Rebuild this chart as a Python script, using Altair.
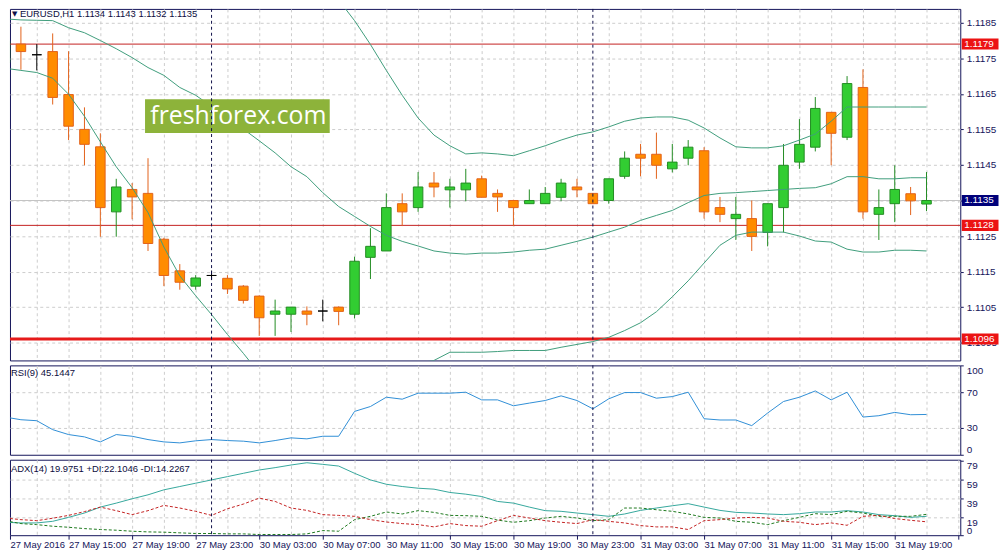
import altair as alt
import pandas as pd

# ---------------- values ----------------
# EURUSD H1 bars, bar 0 = 27 May 2016 11:00 (weekend skipped)
OPEN = [1.11738, 1.11790, 1.11760, 1.11769, 1.11648, 1.11550, 1.11501, 1.11318, 1.11381, 1.11370,
        1.11241, 1.11152, 1.11109, 1.11139, 1.11131, 1.11109, 1.11081, 1.11030, 1.11030, 1.11039,
        1.11039, 1.11050, 1.11030, 1.11190, 1.11208, 1.11341, 1.11330, 1.11399, 1.11380, 1.11380,
        1.11411, 1.11370, 1.11350, 1.11341, 1.11341, 1.11359, 1.11388, 1.11370, 1.11350, 1.11418,
        1.11480, 1.11480, 1.11439, 1.11469, 1.11490, 1.11330, 1.11299, 1.11299, 1.11260, 1.11330,
        1.11458, 1.11500, 1.11598, 1.11528, 1.11668, 1.11311, 1.11341, 1.11369, 1.11340]
HIGH = [1.11850, 1.11839, 1.11790, 1.11820, 1.11770, 1.11612, 1.11539, 1.11411, 1.11399, 1.11469,
        1.11245, 1.11171, 1.11140, 1.11153, 1.11140, 1.11112, 1.11083, 1.11071, 1.11050, 1.11052,
        1.11071, 1.11052, 1.11192, 1.11272, 1.11370, 1.11370, 1.11430, 1.11430, 1.11411, 1.11439,
        1.11420, 1.11381, 1.11352, 1.11381, 1.11388, 1.11411, 1.11411, 1.11370, 1.11411, 1.11488,
        1.11509, 1.11541, 1.11509, 1.11520, 1.11500, 1.11360, 1.11360, 1.11350, 1.11341, 1.11509,
        1.11579, 1.11641, 1.11598, 1.11700, 1.11719, 1.11381, 1.11449, 1.11388, 1.11430]
LOW = [1.11720, 1.11718, 1.11716, 1.11620, 1.11520, 1.11449, 1.11248, 1.11248, 1.11297, 1.11208,
       1.11109, 1.11099, 1.11099, 1.11126, 1.11087, 1.11060, 1.10969, 1.10969, 1.10980, 1.10999,
       1.11010, 1.10999, 1.11018, 1.11129, 1.11208, 1.11278, 1.11318, 1.11359, 1.11330, 1.11348,
       1.11359, 1.11318, 1.11278, 1.11341, 1.11341, 1.11348, 1.11359, 1.11341, 1.11341, 1.11411,
       1.11418, 1.11411, 1.11429, 1.11449, 1.11299, 1.11289, 1.11239, 1.11208, 1.11221, 1.11260,
       1.11439, 1.11488, 1.11449, 1.11520, 1.11299, 1.11239, 1.11289, 1.11309, 1.11320]
CLOSE = [1.11798, 1.11769, 1.11760, 1.11640, 1.11559, 1.11508, 1.11330, 1.11388, 1.11360, 1.11229,
         1.11139, 1.11120, 1.11132, 1.11139, 1.11101, 1.11069, 1.11020, 1.11039, 1.11050, 1.11030,
         1.11039, 1.11038, 1.11179, 1.11221, 1.11330, 1.11318, 1.11388, 1.11388, 1.11388, 1.11399,
         1.11359, 1.11360, 1.11330, 1.11350, 1.11370, 1.11399, 1.11380, 1.11341, 1.11411, 1.11469,
         1.11469, 1.11449, 1.11458, 1.11500, 1.11318, 1.11311, 1.11311, 1.11249, 1.11341, 1.11449,
         1.11508, 1.11609, 1.11539, 1.11679, 1.11318, 1.11330, 1.11381, 1.11349, 1.11350]

BB_UPPER = [1.12000, 1.12000, 1.12010, 1.12030, 1.12060, 1.12080, 1.12120, 1.12130, 1.12140, 1.12160,
            1.12180, 1.12190, 1.12190, 1.12180, 1.12160, 1.12130, 1.12100, 1.12070, 1.12040, 1.12010,
            1.11973, 1.11914, 1.11856, 1.11789, 1.11716, 1.11646, 1.11582, 1.11534, 1.11504, 1.11481,
            1.11484, 1.11481, 1.11476, 1.11490, 1.11504, 1.11520, 1.11534, 1.11543, 1.11557, 1.11573,
            1.11582, 1.11585, 1.11585, 1.11576, 1.11554, 1.11526, 1.11501, 1.11498, 1.11498, 1.11504,
            1.11520, 1.11537, 1.11573, 1.11613, 1.11613, 1.11613, 1.11613, 1.11613, 1.11613]
BB_MIDDLE = [1.11861, 1.11858, 1.11857, 1.11856, 1.11836, 1.11822, 1.11800, 1.11777, 1.11752, 1.11724,
             1.11702, 1.11668, 1.11646, 1.11615, 1.11585, 1.11551, 1.11518, 1.11484, 1.11445, 1.11417,
             1.11372, 1.11333, 1.11305, 1.11277, 1.11252, 1.11235, 1.11222, 1.11208, 1.11202, 1.11199,
             1.11202, 1.11202, 1.11205, 1.11210, 1.11213, 1.11224, 1.11235, 1.11247, 1.11261, 1.11275,
             1.11294, 1.11308, 1.11322, 1.11344, 1.11364, 1.11370, 1.11372, 1.11375, 1.11378, 1.11381,
             1.11384, 1.11386, 1.11397, 1.11417, 1.11417, 1.11411, 1.11411, 1.11414, 1.11414]
BB_LOWER = [1.11722, 1.11716, 1.11710, 1.11694, 1.11649, 1.11587, 1.11515, 1.11445, 1.11386, 1.11316,
            1.11219, 1.11138, 1.11082, 1.11029, 1.10973, 1.10920, 1.10864, 1.10822, 1.10794, 1.10780,
            1.10772, 1.10780, 1.10794, 1.10822, 1.10856, 1.10878, 1.10892, 1.10900, 1.10923, 1.10923,
            1.10923, 1.10925, 1.10928, 1.10928, 1.10928, 1.10937, 1.10945, 1.10953, 1.10965, 1.10984,
            1.11006, 1.11037, 1.11079, 1.11124, 1.11174, 1.11224, 1.11252, 1.11261, 1.11261, 1.11261,
            1.11250, 1.11236, 1.11233, 1.11213, 1.11205, 1.11205, 1.11210, 1.11210, 1.11208]

RSI = [42.2, 39.2, 38.1, 28.1, 22.6, 20.0, 14.4, 22.6, 20.7, 17.0,
       14.4, 13.3, 15.6, 17.0, 15.9, 15.2, 13.3, 15.9, 18.9, 17.8,
       20.7, 20.7, 48.5, 54.0, 64.4, 62.2, 68.9, 68.9, 68.9, 70.0,
       61.4, 61.4, 54.8, 57.8, 60.7, 65.9, 60.7, 51.4, 62.6, 69.6,
       69.6, 63.3, 65.1, 70.0, 40.3, 38.9, 38.9, 32.6, 46.7, 59.6,
       64.4, 71.4, 61.4, 70.0, 42.2, 43.7, 47.4, 44.8, 45.1]
ADX = [13.7, 13.0, 13.0, 14.7, 18.9, 23.5, 29.8, 34.0, 38.6, 42.8,
       48.1, 51.6, 55.1, 58.6, 62.1, 65.6, 69.1, 71.6, 74.4, 76.8,
       75.1, 73.3, 65.6, 58.6, 54.0, 51.6, 49.8, 48.8, 45.3, 43.5,
       41.0, 35.8, 34.0, 29.8, 26.0, 25.3, 23.5, 21.8, 20.0, 22.5,
       26.3, 28.8, 31.2, 33.4, 29.8, 26.3, 24.2, 23.5, 22.5, 21.8,
       22.8, 24.6, 24.6, 26.0, 24.6, 21.8, 20.7, 18.9, 20.0]
PLUS_DI = [15.4, 12.3, 11.2, 9.5, 8.4, 7.0, 6.0, 5.3, 4.2, 3.5,
           3.2, 2.5, 1.8, 1.8, 1.4, 1.4, 0.7, 0.7, 0.7, 1.4,
           4.9, 4.2, 16.5, 20.0, 24.6, 22.5, 26.0, 24.2, 21.0, 20.7,
           20.0, 16.0, 13.7, 15.4, 18.2, 20.0, 18.2, 15.4, 16.5, 28.8,
           28.8, 27.0, 25.3, 22.5, 18.9, 18.2, 14.7, 13.7, 11.2, 15.4,
           18.9, 22.8, 21.8, 25.3, 23.5, 20.0, 20.0, 20.0, 22.1]
MINUS_DI = [18.2, 16.5, 15.4, 18.0, 21.0, 25.0, 29.8, 26.0, 21.8, 26.0,
            31.6, 28.8, 25.3, 21.0, 28.0, 33.0, 39.3, 35.8, 28.8, 26.3,
            21.8, 21.0, 20.0, 16.5, 14.0, 12.3, 11.2, 8.8, 12.3, 10.2,
            9.5, 15.4, 21.0, 18.2, 15.4, 13.7, 12.3, 16.5, 14.7, 13.0,
            10.2, 8.8, 8.8, 6.0, 15.4, 16.5, 18.2, 18.9, 18.2, 14.7,
            13.7, 11.2, 13.0, 10.5, 20.0, 21.0, 17.6, 15.8, 14.2]

TIME_LABELS = ["27 May 2016", "27 May 15:00", "27 May 19:00", "27 May 23:00", "30 May 03:00",
               "30 May 07:00", "30 May 11:00", "30 May 15:00", "30 May 19:00", "30 May 23:00",
               "31 May 03:00", "31 May 07:00", "31 May 11:00", "31 May 15:00", "31 May 19:00"]
SEPARATORS = [13, 37]                 # day starts (30 May 00:00, 31 May 00:00)
LEVELS = [1.1179, 1.1128, 1.1096]
LEVEL_WIDTHS = [1, 1, 3]
BID = [1.1135]
TAG_PRICES = [1.1179, 1.1135, 1.1128, 1.1096]
PRICE_TICKS = [1.1095, 1.1105, 1.1115, 1.1125, 1.1135, 1.1145, 1.1155, 1.1165, 1.1175, 1.1185]
RSI_TICKS = [0, 30, 70, 100]
ADX_TICKS = [0, 19, 39, 59, 79]
MAIN_TITLE = "EURUSD,H1  1.1134 1.1143 1.1132 1.1135"
RSI_TITLE = "RSI(9) 45.1447"
ADX_TITLE = "ADX(14) 19.9751 +DI:22.1046 -DI:14.2267"
WATERMARK = "freshforex.com"

# ---------------- styles / layout ----------------
NAVY = "#14145a"
GRID = "#cdcdcd"
FONT = "Liberation Sans"
W = 957
X0 = 0.3125                 # first visible bar position at the left border
X_DOMAIN = [X0, 60.125]
GRID_K = list(range(2, 61, 2))
DIRS = ["up", "down", "doji"]
BODY_FILL = ["#32cd32", "#ff8c00", "#000000"]
BODY_EDGE = ["#238c23", "#e2621a", "#000000"]
BAND = "#3f9d7c"
TAG_COLORS = ["#ec1313", "#00007a", "#ec1313", "#ec1313"]
LEVEL_COLORS = ["#c42020", "#c42020", "#e61a1a"]
TAG_SHAPE = "M-1,-0.3L1,-0.3L1,0.3L-1,0.3Z"

N = len(OPEN)
bars = pd.DataFrame({"k": list(range(N)), "open": OPEN, "high": HIGH, "low": LOW, "close": CLOSE,
                     "upper": BB_UPPER, "middle": BB_MIDDLE, "lower": BB_LOWER,
                     "rsi": RSI, "adx": ADX, "pdi": PLUS_DI, "mdi": MINUS_DI})
bars["dir"] = ["up" if c > o else ("down" if c < o else "doji") for o, c in zip(OPEN, CLOSE)]
bars["body_lo"] = [min(o, c) for o, c in zip(OPEN, CLOSE)]
bars["body_hi"] = [max(o, c) for o, c in zip(OPEN, CLOSE)]

levels = pd.DataFrame({"price": LEVELS, "width": LEVEL_WIDTHS, "color": LEVEL_COLORS})
bid = pd.DataFrame({"price": BID})
seps = pd.DataFrame({"k": SEPARATORS})
tags = pd.DataFrame({"price": TAG_PRICES, "color": TAG_COLORS})

x_scale = alt.Scale(domain=X_DOMAIN, nice=False, zero=False)
y_price = alt.Scale(domain=[1.10900, 1.11889], nice=False, zero=False)
y_rsi = alt.Scale(domain=[0, 100], nice=False, zero=False)
y_adx = alt.Scale(domain=[0, 80], nice=False, zero=False)

GRID_X_AXIS = alt.Axis(values=GRID_K, grid=True, gridColor=GRID, gridDash=[3, 3], labels=False,
                       ticks=False, domain=False, title=None)


def right_axis(values, **kw):
    return alt.Axis(orient="right", values=values, grid=True, gridColor=GRID, gridDash=[3, 3],
                    tickSize=3, tickColor=NAVY, domain=False, labelColor=NAVY, labelFont=FONT,
                    labelFontSize=10, labelPadding=3, labelOverlap=False, title=None, **kw)


PRICE_AXIS = right_axis(
    PRICE_TICKS, format=".4f",
    labelOpacity={"condition": {"test": "datum.value == 1.1135", "value": 0}, "value": 1})
RSI_AXIS = right_axis(
    RSI_TICKS, labelFlush=2,
    gridOpacity={"condition": {"test": "datum.value == 0 || datum.value == 100", "value": 0},
                 "value": 1})
ADX_AXIS = right_axis(
    ADX_TICKS,
    labelBaseline={"condition": {"test": "datum.value == 0", "value": "bottom"}, "value": "top"},
    gridOpacity={"condition": {"test": "datum.value == 0 || datum.value == 79", "value": 0},
                 "value": 1})
label_js = "[" + ",".join("'%s'" % s for s in TIME_LABELS) + "]"
TIME_AXIS = alt.Axis(
    values=[X0] + GRID_K, grid=True, gridColor=GRID, gridDash=[3, 3], domain=False,
    labelExpr=(f"datum.value < 1 ? {label_js}[0] : "
               f"(datum.value % 4 == 0 ? {label_js}[datum.value / 4] : '')"),
    labelAlign="left", labelBaseline="top", labelPadding=0, labelFlush=False,
    labelOverlap=False, labelColor=NAVY, labelFont=FONT, labelFontSize=9.5,
    tickSize=4, tickColor=NAVY,
    tickOpacity={"condition": {"test": "datum.value > 1 && datum.value % 4 != 0", "value": 0},
                 "value": 1},
    gridOpacity={"condition": {"test": "datum.value < 1", "value": 0}, "value": 1},
    title=None,
)


def text_layer(txt, x, y, size=9.5, color="#0d0d40", font=FONT, align="left"):
    return alt.Chart(pd.DataFrame({"t": [txt]})).mark_text(
        align=align, baseline="middle", font=font, fontSize=size, color=color
    ).encode(x=alt.value(x), y=alt.value(y), text="t:N")


def sep_layer(xaxis):
    return alt.Chart(seps).mark_rule(color="#10104a", strokeDash=[3, 3], strokeWidth=1).encode(
        x=alt.X("k:Q", scale=x_scale, axis=xaxis))


# ---------------- main price panel ----------------
base = alt.Chart(bars)

bid_layer = alt.Chart(bid).mark_rule(color="#c4c4c4", strokeWidth=1).encode(
    y=alt.Y("price:Q", scale=y_price, axis=PRICE_AXIS))
level_layer = alt.Chart(levels).mark_rule().encode(
    y=alt.Y("price:Q", scale=y_price, axis=PRICE_AXIS),
    color=alt.Color("color:N", scale=None),
    strokeWidth=alt.StrokeWidth("width:Q", scale=None),
)
wick_layer = base.mark_rule(strokeWidth=1, clip=True).encode(
    x=alt.X("k:Q", scale=x_scale, axis=GRID_X_AXIS),
    y=alt.Y("low:Q", scale=y_price, axis=PRICE_AXIS),
    y2="high:Q",
    stroke=alt.Stroke("dir:N", scale=alt.Scale(domain=DIRS, range=BODY_EDGE), legend=None),
)
body_layer = base.transform_calculate(
    x0="datum.k - 0.3", x1="datum.k + 0.3"
).mark_rect(strokeWidth=1, clip=True).encode(
    x=alt.X("x0:Q", scale=x_scale, axis=GRID_X_AXIS),
    x2="x1:Q",
    y=alt.Y("body_lo:Q", scale=y_price, axis=PRICE_AXIS),
    y2="body_hi:Q",
    fill=alt.Fill("dir:N", scale=alt.Scale(domain=DIRS, range=BODY_FILL), legend=None),
    stroke=alt.Stroke("dir:N", scale=alt.Scale(domain=DIRS, range=BODY_EDGE), legend=None),
)
band_layers = [
    base.mark_line(color=BAND, strokeWidth=1, clip=True).encode(
        x=alt.X("k:Q", scale=x_scale, axis=GRID_X_AXIS),
        y=alt.Y(f"{col}:Q", scale=y_price, axis=PRICE_AXIS))
    for col in ["upper", "middle", "lower"]
]
wm_box = alt.Chart(pd.DataFrame({"t": [WATERMARK]})).mark_rect(color="#8db33a").encode(
    x=alt.value(136), x2=alt.value(322), y=alt.value(91), y2=alt.value(125))
wm_text = text_layer(WATERMARK, 230, 108, size=25, color="#ffffff", font="Open Sans", align="center")

tag_box = alt.Chart(tags).mark_point(shape=TAG_SHAPE, size=1369, filled=True, opacity=1,
                                     strokeWidth=0).encode(
    x=alt.value(977),
    y=alt.Y("price:Q", scale=y_price, axis=PRICE_AXIS),
    color=alt.Color("color:N", scale=None),
)
tag_text = alt.Chart(tags).mark_text(align="left", baseline="middle", font=FONT, fontSize=10,
                                     color="#ffffff").encode(
    x=alt.value(961),
    y=alt.Y("price:Q", scale=y_price, axis=PRICE_AXIS),
    text=alt.Text("price:Q", format=".4f"),
)

main = alt.layer(
    bid_layer, level_layer, wick_layer, body_layer, *band_layers,
    wm_box, wm_text, sep_layer(GRID_X_AXIS),
    text_layer("\u25bc", 2, 5, size=7, color="#10104a", font="DejaVu Sans"),
    text_layer(MAIN_TITLE, 10, 5),
    tag_box, tag_text,
).properties(width=W, height=354)

# ---------------- RSI panel ----------------
rsi_panel = alt.layer(
    base.mark_line(color="#2f8ed6", strokeWidth=1, clip=True).encode(
        x=alt.X("k:Q", scale=x_scale, axis=GRID_X_AXIS),
        y=alt.Y("rsi:Q", scale=y_rsi, axis=RSI_AXIS),
    ),
    sep_layer(GRID_X_AXIS),
    text_layer(RSI_TITLE, 1, 8),
).properties(width=W, height=90)

# ---------------- ADX panel ----------------
adx_panel = alt.layer(
    base.mark_line(color="#35a79c", strokeWidth=1, clip=True).encode(
        x=alt.X("k:Q", scale=x_scale, axis=TIME_AXIS),
        y=alt.Y("adx:Q", scale=y_adx, axis=ADX_AXIS),
    ),
    base.mark_line(color="#1f7a1f", strokeWidth=1, strokeDash=[3, 2], clip=True).encode(
        x=alt.X("k:Q", scale=x_scale, axis=TIME_AXIS),
        y=alt.Y("pdi:Q", scale=y_adx, axis=ADX_AXIS)),
    base.mark_line(color="#c42222", strokeWidth=1, strokeDash=[3, 2], clip=True).encode(
        x=alt.X("k:Q", scale=x_scale, axis=TIME_AXIS),
        y=alt.Y("mdi:Q", scale=y_adx, axis=ADX_AXIS)),
    sep_layer(TIME_AXIS),
    text_layer(ADX_TITLE, 1, 9.5),
).properties(width=W, height=76)

chart = alt.vconcat(main, rsi_panel, adx_panel, spacing=3).properties(
    padding={"left": 0, "top": -2, "right": 0, "bottom": 0},
    background="#ffffff",
).configure_view(stroke=NAVY, strokeWidth=1)

chart.save("out.html", embed_options={"renderer": "svg", "actions": False})
